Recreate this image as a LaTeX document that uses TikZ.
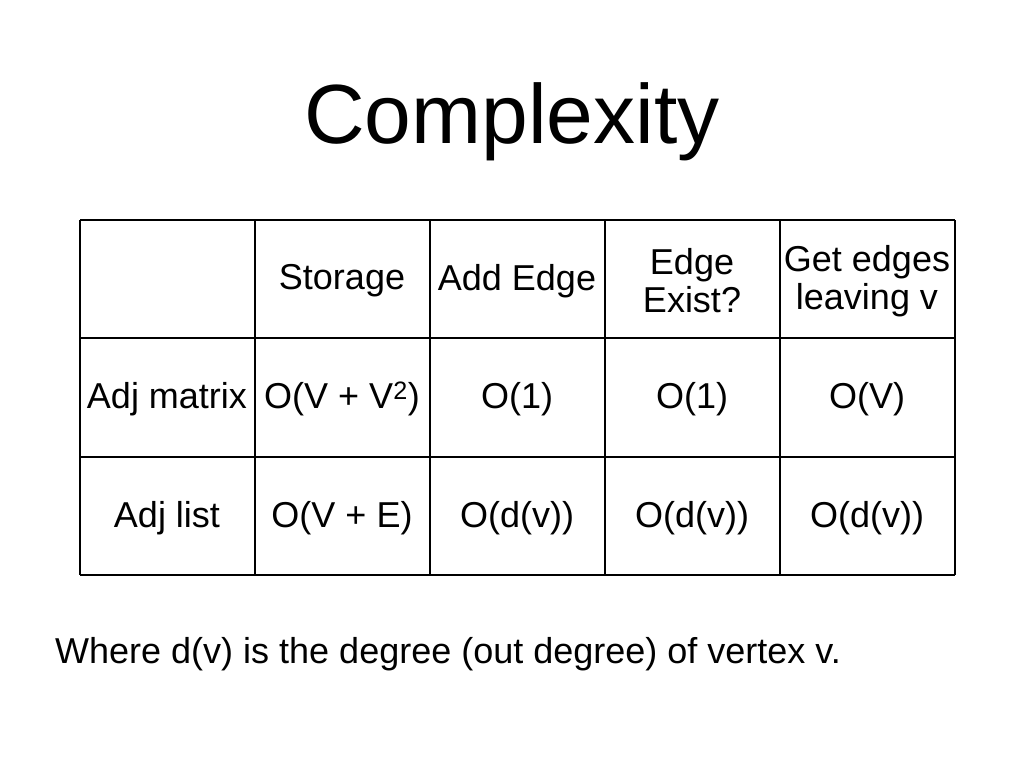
\documentclass[tikz,border=0pt]{standalone}
\usepackage{fontspec}
\setmainfont{Liberation Sans}
\begin{document}
\begin{tikzpicture}[x=1pt,y=-1pt,
  cell/.style={align=center,font=\fontsize{36}{38}\selectfont},
  grid/.style={line width=2.5pt}]
\useasboundingbox (0,0) rectangle (1024,768);
\node[font=\fontsize{84}{90}\selectfont] (title) at (512,122) {Complexity};
\foreach \x in {80,255,430,605,780,955} \draw[grid] (\x,220) -- (\x,575);
\foreach \y in {220,338,457,575} \draw[grid] (80,\y) -- (955,\y);
\node[cell] (h1) at (342,281) {Storage};
\node[cell] (h2) at (517,281) {Add Edge};
\node[cell] (h3) at (692,281) {Edge\\Exist?};
\node[cell] (h4) at (867,281) {Get edges\\leaving v};
\node[cell] (r1) at (167,399) {Adj matrix};
\node[cell] (a1) at (342,399) {O(V + V\textsuperscript{2})};
\node[cell] (a2) at (517,399) {O(1)};
\node[cell] (a3) at (692,399) {O(1)};
\node[cell] (a4) at (867,399) {O(V)};
\node[cell] (r2) at (167,518) {Adj list};
\node[cell] (b1) at (342,518) {O(V + E)};
\node[cell] (b2) at (517,518) {O(d(v))};
\node[cell] (b3) at (692,518) {O(d(v))};
\node[cell] (b4) at (867,518) {O(d(v))};
\node[cell,anchor=west,inner sep=0pt] (note) at (55,654) {Where d(v) is the degree (out degree) of vertex v.};
\end{tikzpicture}
\end{document}
